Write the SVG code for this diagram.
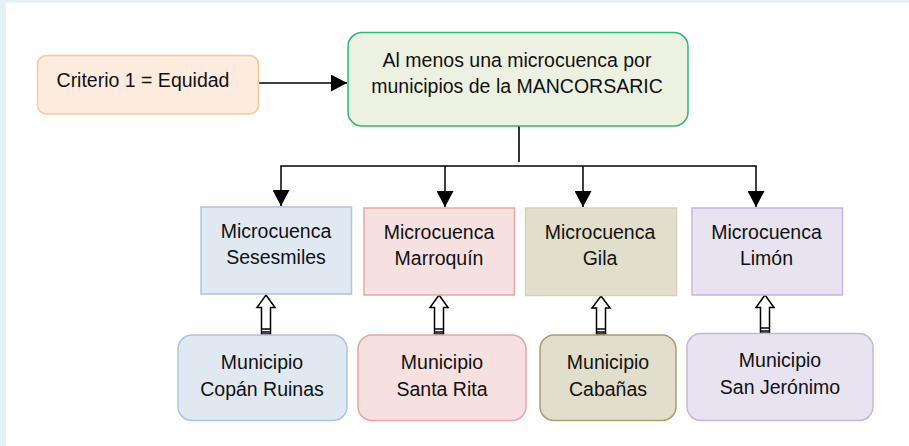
<svg xmlns="http://www.w3.org/2000/svg" width="909" height="446" viewBox="0 0 909 446">
<style>
text{font-family:"Liberation Sans",Arial,sans-serif;font-size:19.5px;fill:#111;text-anchor:middle}
.c{stroke:#000;stroke-width:1.5;fill:none}
.h{fill:#fff;stroke:#000;stroke-width:1.5;stroke-linejoin:miter}
.hb{stroke:#111;stroke-width:1.6}
</style>
<defs>
<marker id="ah" markerUnits="userSpaceOnUse" markerWidth="17" markerHeight="17" viewBox="0 0 16 17" refX="16" refY="8.5" orient="auto">
<path d="M0,0 L16,8.5 L0,17 z" fill="#000"/>
</marker>
</defs>
<rect x="0" y="0" width="909" height="446" fill="#e4f2f7"/>
<rect x="6" y="3" width="903" height="443" fill="#fff"/>

<g id="connectors">
<line class="c" x1="258" y1="83" x2="347" y2="83" marker-end="url(#ah)"/>
<line x1="519" y1="126" x2="519" y2="162" stroke="#333" stroke-width="2"/>
<line class="c" x1="280.25" y1="166" x2="756.75" y2="166"/>
<line class="c" x1="281" y1="166" x2="281" y2="206" marker-end="url(#ah)"/>
<line class="c" x1="445" y1="166" x2="445" y2="207" marker-end="url(#ah)"/>
<line class="c" x1="583" y1="166" x2="583" y2="207" marker-end="url(#ah)"/>
<line class="c" x1="756" y1="166" x2="756" y2="207" marker-end="url(#ah)"/>
<g id="up1">
<path class="h" d="M266,295 L275,307.5 L270.5,307.5 L270.5,334 L261.5,334 L261.5,307.5 L257,307.5 Z"/>
<line class="hb" x1="261.5" y1="329" x2="270.5" y2="329"/><line class="hb" x1="261.5" y1="332" x2="270.5" y2="332"/>
</g>
<g id="up2">
<path class="h" d="M439,295 L448,307.5 L443.5,307.5 L443.5,334 L434.5,334 L434.5,307.5 L430,307.5 Z"/>
<line class="hb" x1="434.5" y1="329" x2="443.5" y2="329"/><line class="hb" x1="434.5" y1="332" x2="443.5" y2="332"/>
</g>
<g id="up3">
<path class="h" d="M601,296 L610,308 L605.5,308 L605.5,334 L596.5,334 L596.5,308 L592,308 Z"/>
<line class="hb" x1="596.5" y1="329" x2="605.5" y2="329"/><line class="hb" x1="596.5" y1="332" x2="605.5" y2="332"/>
</g>
<g id="up4">
<path class="h" d="M765,295 L774,307.5 L769.5,307.5 L769.5,333 L760.5,333 L760.5,307.5 L756,307.5 Z"/>
<line class="hb" x1="760.5" y1="328" x2="769.5" y2="328"/><line class="hb" x1="760.5" y1="331" x2="769.5" y2="331"/>
</g>
</g>

<g id="criterio">
<rect x="37.5" y="55.5" width="221" height="58.5" rx="9" fill="#fdebdd" stroke="#fcc89b" stroke-width="1.5"/>
<text x="143" y="87">Criterio 1 = Equidad</text>
</g>
<g id="principal">
<rect x="348" y="32.5" width="340" height="93.5" rx="14" fill="#edf1e2" stroke="#2eb872" stroke-width="1.5"/>
<text x="517" y="66.5">Al menos una microcuenca por</text>
<text x="517" y="92.5">municipios de la MANCORSARIC</text>
</g>

<g id="mc-sesesmiles">
<rect x="201" y="207" width="150.5" height="87" fill="#e0e8f2" stroke="#aac5e3" stroke-width="1.5"/>
<text x="276" y="237.5">Microcuenca</text>
<text x="276" y="263.5">Sesesmiles</text>
</g>
<g id="mc-marroquin">
<rect x="364" y="208" width="150.5" height="87" fill="#f6e0e0" stroke="#e8a6a6" stroke-width="1.5"/>
<text x="439" y="239">Microcuenca</text>
<text x="439" y="265">Marroquín</text>
</g>
<g id="mc-gila">
<rect x="525.5" y="208" width="151" height="87.5" fill="#e1dfcb" stroke="#d8d2b2" stroke-width="1.5"/>
<text x="600" y="239">Microcuenca</text>
<text x="600" y="265">Gila</text>
</g>
<g id="mc-limon">
<rect x="692" y="208" width="150.5" height="87" fill="#e7e3f0" stroke="#c6b6db" stroke-width="1.5"/>
<text x="766.5" y="239">Microcuenca</text>
<text x="766.5" y="265">Limón</text>
</g>

<g id="mu-copan">
<rect x="178" y="335" width="169" height="85.5" rx="14" fill="#e0e8f2" stroke="#aac5e3" stroke-width="1.5"/>
<text x="262" y="368.5">Municipio</text>
<text x="262" y="395.5">Copán Ruinas</text>
</g>
<g id="mu-santarita">
<rect x="358" y="335" width="168" height="85.5" rx="14" fill="#f6e0e0" stroke="#e8a6a6" stroke-width="1.5"/>
<text x="442" y="368.5">Municipio</text>
<text x="442" y="395.5">Santa Rita</text>
</g>
<g id="mu-cabanas">
<rect x="540" y="335" width="136" height="85.5" rx="14" fill="#e1dfcb" stroke="#a8a070" stroke-width="1.5"/>
<text x="608" y="368.5">Municipio</text>
<text x="608" y="395.5">Cabañas</text>
</g>
<g id="mu-sanjeronimo">
<rect x="687" y="333.5" width="186" height="87" rx="14" fill="#e7e3f0" stroke="#c6b6db" stroke-width="1.5"/>
<text x="780" y="367">Municipio</text>
<text x="780" y="393.5">San Jerónimo</text>
</g>
</svg>
